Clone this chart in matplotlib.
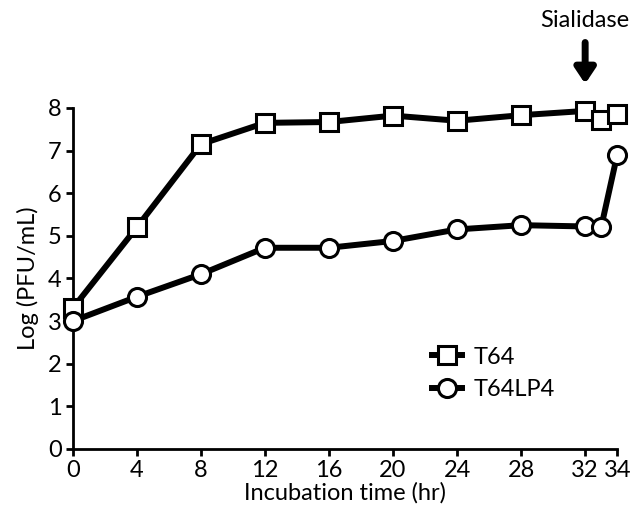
import numpy as np
import matplotlib.pyplot as plt

plt.rcParams['font.family'] = ['Lato', 'DejaVu Sans']

# incubation times (hr)
time_t64 = [0, 4, 8, 12, 16, 20, 24, 28, 32, 33, 34]
time_lp4 = [0, 4, 8, 12, 16, 20, 24, 28, 32, 33, 34]

# log PFU/mL
t64 = [3.3, 5.2, 7.15, 7.65, 7.67, 7.82, 7.7, 7.83, 7.93, 7.72, 7.85]
t64lp4 = [3.0, 3.57, 4.1, 4.72, 4.72, 4.88, 5.15, 5.25, 5.22, 5.2, 6.9]

x_ticks = [0, 4, 8, 12, 16, 20, 24, 28, 32, 34]
y_ticks = [0, 1, 2, 3, 4, 5, 6, 7, 8]

fig = plt.figure(figsize=(6.33, 5.14), dpi=100)
ax = fig.add_axes([0.115, 0.1265, 0.86, 0.6635])

ax.plot(time_t64, t64, color='black', lw=4.3, marker='s', ms=13,
        mfc='white', mec='black', mew=2.2, clip_on=False, zorder=3, label='T64')
ax.plot(time_lp4, t64lp4, color='black', lw=4.3, marker='o', ms=13,
        mfc='white', mec='black', mew=2.2, clip_on=False, zorder=3, label='T64LP4')

ax.set_xlim(0, 34)
ax.set_ylim(0, 8)
ax.set_xticks(x_ticks)
ax.set_yticks(y_ticks)
ax.tick_params(labelsize=17, width=2, length=5, direction='out', pad=3)
for side in ['top', 'right']:
    ax.spines[side].set_visible(False)
for side in ['left', 'bottom']:
    ax.spines[side].set_linewidth(2)

ax.set_xlabel('Incubation time (hr)', fontsize=17, labelpad=1)
ax.set_ylabel('Log (PFU/mL)', fontsize=17, labelpad=6)

# sialidase addition
ax.annotate('', xy=(32, 8.5), xytext=(32, 9.6),
            arrowprops=dict(arrowstyle='-|>,head_width=0.6,head_length=0.9',
                            color='black', lw=5), annotation_clip=False)
ax.text(32, 10.05, 'Sialidase', ha='center', va='center', fontsize=17)

ax.legend(loc='lower left', bbox_to_anchor=(0.62, 0.08), frameon=False,
          fontsize=17, handlelength=1.3, handletextpad=0.5, labelspacing=0.5)

plt.savefig('out.png', dpi=100)
